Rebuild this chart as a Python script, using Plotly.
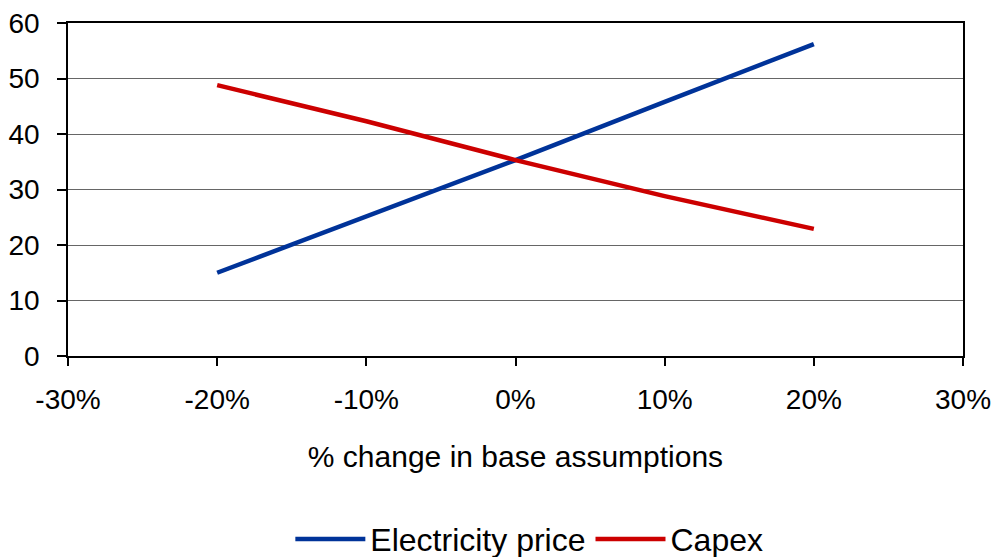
import plotly.graph_objects as go

# Sensitivity of result to changes in base assumptions
pct_change = [-0.20, -0.10, 0.0, 0.10, 0.20]
electricity_price = [15.0, 25.2, 35.3, 45.8, 56.2]
capex = [48.8, 42.3, 35.3, 28.8, 22.9]

x_ticks = [-0.30, -0.20, -0.10, 0.0, 0.10, 0.20, 0.30]
x_tick_labels = ["-30%", "-20%", "-10%", "0%", "10%", "20%", "30%"]
y_ticks = [0, 10, 20, 30, 40, 50, 60]

FONT = "Liberation Sans, Arial, sans-serif"

fig = go.Figure()
fig.add_trace(go.Scatter(
    x=pct_change, y=electricity_price, mode="lines", name="Electricity price",
    line=dict(color="#003399", width=4.5),
))
fig.add_trace(go.Scatter(
    x=pct_change, y=capex, mode="lines", name="Capex",
    line=dict(color="#CC0000", width=4.5),
))

fig.update_layout(
    width=995, height=557,
    margin=dict(l=68, r=32, t=23, b=201),
    paper_bgcolor="white", plot_bgcolor="white",
    font=dict(family=FONT, size=28, color="black"),
    showlegend=True,
    legend=dict(
        orientation="h", x=0.532, xanchor="center", xref="container",
        y=0.032, yanchor="middle", yref="container",
        font=dict(size=32, family=FONT),
        itemwidth=70, traceorder="normal",
        bgcolor="rgba(0,0,0,0)",
    ),
)

fig.update_xaxes(
    range=[-0.30, 0.30], tickvals=x_ticks, ticktext=x_tick_labels,
    showgrid=False, zeroline=False,
    showline=True, linecolor="black", linewidth=1.5, mirror=True,
    ticks="outside", ticklen=8, tickwidth=1.5, tickcolor="black",
    ticklabelstandoff=10,
    tickfont=dict(size=28, family=FONT),
    automargin="bottom",
    title=dict(text="% change in base assumptions", font=dict(size=30, family=FONT), standoff=32),
)
fig.update_yaxes(
    range=[0, 60], tickvals=y_ticks,
    showgrid=True, gridcolor="#666666", gridwidth=1, zeroline=False,
    showline=True, linecolor="black", linewidth=1.5, mirror=True,
    ticks="outside", ticklen=9, tickwidth=1.5, tickcolor="black",
    ticklabelstandoff=12, automargin=False,
    tickfont=dict(size=28, family=FONT),
)

fig.write_html("out.html")
